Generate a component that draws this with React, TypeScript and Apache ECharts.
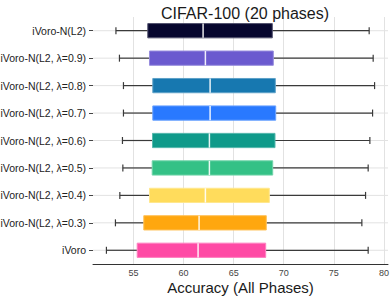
import React, { useEffect, useRef } from "react";
import * as echarts from "echarts";

const categories = [
  "iVoro-N(L2)",
  "iVoro-N(L2, λ=0.9)",
  "iVoro-N(L2, λ=0.8)",
  "iVoro-N(L2, λ=0.7)",
  "iVoro-N(L2, λ=0.6)",
  "iVoro-N(L2, λ=0.5)",
  "iVoro-N(L2, λ=0.4)",
  "iVoro-N(L2, λ=0.3)",
  "iVoro",
];
const whiskerLow = [53.25, 53.6, 54.0, 54.0, 53.9, 53.94, 53.64, 53.2, 52.3];
const q1 = [56.43, 56.6, 56.93, 56.93, 56.9, 56.87, 56.6, 56.03, 55.37];
const median = [61.95, 62.18, 62.65, 62.65, 62.58, 62.58, 62.18, 61.55, 61.45];
const q3 = [68.86, 68.96, 69.16, 69.2, 69.13, 68.9, 68.56, 68.26, 68.2];
const whiskerHigh = [78.53, 78.93, 79.07, 78.87, 78.6, 78.43, 78.17, 77.8, 78.43];
const boxColors = [
  "#06062e",
  "#6b5acf",
  "#1778b0",
  "#2979ff",
  "#0f9a8a",
  "#34c186",
  "#ffdc5c",
  "#ffa70f",
  "#ff4aa5",
];
const xTicks = [55, 60, 65, 70, 75, 80];

function lighten(hex: string, t: number) {
  const n = parseInt(hex.slice(1), 16);
  const r = (n >> 16) & 255, g = (n >> 8) & 255, b = n & 255;
  const f = (c: number) => Math.round(c + (255 - c) * t);
  return `rgb(${f(r)},${f(g)},${f(b)})`;
}

export default function App() {
  const ref = useRef<HTMLDivElement>(null);
  useEffect(() => {
    if (!ref.current) return;
    const chart = echarts.init(ref.current, null, { renderer: "svg" });
    const data = categories.map((_, i) => [
      i,
      whiskerLow[i],
      q1[i],
      median[i],
      q3[i],
      whiskerHigh[i],
    ]);
    const font = "Liberation Sans, Arial, sans-serif";
    chart.setOption({
      animation: false,
      title: {
        text: "CIFAR-100 (20 phases)",
        left: 240,
        top: 0,
        textAlign: "center",
        textStyle: { fontSize: 16, fontWeight: "normal", color: "#1a1a1a", fontFamily: font },
      },
      grid: {
        left: 93,
        right: 2,
        top: 17,
        bottom: 32,
        containLabel: false,
        outerBoundsMode: "none",
      },
      xAxis: {
        type: "value",
        min: 50.96,
        max: 80.41,
        axisLine: { show: true, lineStyle: { color: "#333", width: 1 } },
        axisTick: { show: false, customValues: xTicks },
        axisLabel: {
          customValues: xTicks,
          fontSize: 9,
          color: "#444",
          margin: 4,
          fontFamily: font,
        },
        splitLine: { show: true, lineStyle: { color: "#e2e2e2", width: 1 } },
        name: "Accuracy (All Phases)",
        nameLocation: "middle",
        nameGap: 16,
        nameMoveOverlap: false,
        nameTextStyle: { fontSize: 15, color: "#1a1a1a", fontFamily: font },
      },
      yAxis: {
        type: "category",
        data: categories,
        inverse: true,
        axisLine: { show: false },
        axisTick: {
          show: true,
          alignWithLabel: true,
          length: 4,
          lineStyle: { color: "#444", width: 1 },
        },
        axisLabel: { fontSize: 10.5, color: "#222", margin: 7, fontFamily: font },
        splitLine: { show: false },
      },
      series: [
        {
          type: "custom",
          data,
          encode: { x: [1, 2, 3, 4, 5], y: 0 },
          renderItem: (params: any, api: any) => {
            const cat = api.value(0);
            const idx = params.dataIndex;
            const [xLo, y] = api.coord([api.value(1), cat]);
            const [xQ1] = api.coord([api.value(2), cat]);
            const [xMed] = api.coord([api.value(3), cat]);
            const [xQ3] = api.coord([api.value(4), cat]);
            const [xHi] = api.coord([api.value(5), cat]);
            const band = api.size([0, 1])[1];
            const h = band * 0.52;
            const capH = 7;
            const cs = params.coordSys;
            const col = boxColors[idx];
            const wStroke = "#3a3a3a";
            return {
              type: "group",
              children: [
                {
                  type: "line",
                  shape: { x1: cs.x, y1: y, x2: cs.x + cs.width, y2: y },
                  style: { stroke: "#e2e2e2", lineWidth: 1 },
                },
                {
                  type: "line",
                  shape: { x1: xLo, y1: y, x2: xQ1, y2: y },
                  style: { stroke: wStroke, lineWidth: 1.2 },
                },
                {
                  type: "line",
                  shape: { x1: xQ3, y1: y, x2: xHi, y2: y },
                  style: { stroke: wStroke, lineWidth: 1.2 },
                },
                {
                  type: "line",
                  shape: { x1: xLo, y1: y - capH / 2, x2: xLo, y2: y + capH / 2 },
                  style: { stroke: wStroke, lineWidth: 1.2 },
                },
                {
                  type: "line",
                  shape: { x1: xHi, y1: y - capH / 2, x2: xHi, y2: y + capH / 2 },
                  style: { stroke: wStroke, lineWidth: 1.2 },
                },
                {
                  type: "rect",
                  shape: { x: xQ1, y: y - h / 2, width: xQ3 - xQ1, height: h },
                  style: { fill: col, stroke: lighten(col, 0.3), lineWidth: 1 },
                },
                {
                  type: "line",
                  shape: { x1: xMed, y1: y - h / 2, x2: xMed, y2: y + h / 2 },
                  style: { stroke: "rgba(255,255,255,0.9)", lineWidth: 1.5 },
                },
              ],
            };
          },
        },
      ],
    });
    return () => chart.dispose();
  }, []);
  return (
    <div
      ref={ref}
      style={{ position: "fixed", left: 0, top: 0, width: 390, height: 296, background: "#fff" }}
    />
  );
}
